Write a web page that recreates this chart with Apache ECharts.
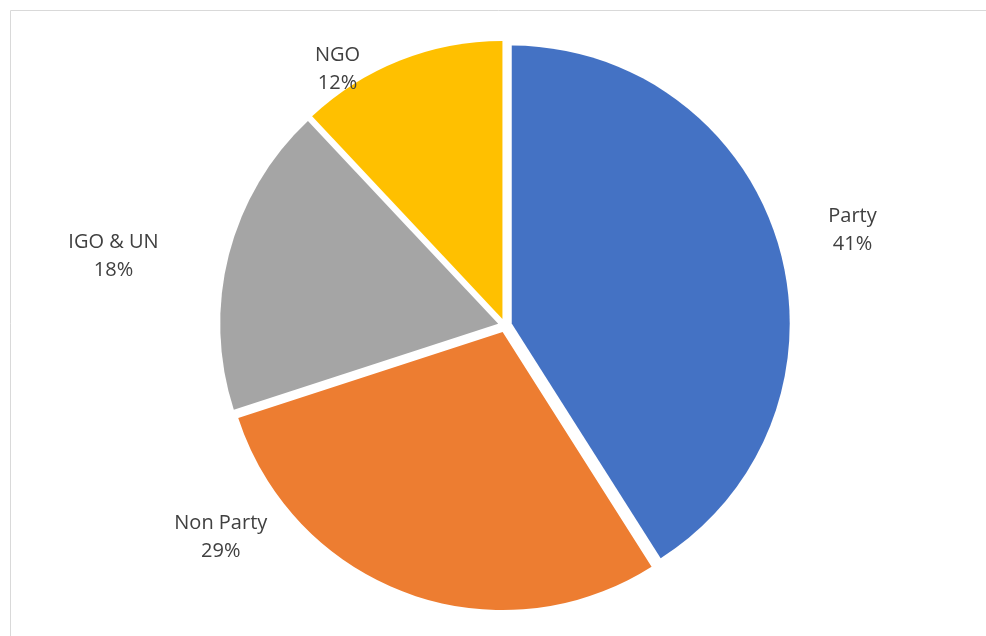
<!DOCTYPE html>
<html>
<head>
<meta charset="utf-8">
<script src="https://cdn.jsdelivr.net/npm/echarts@6/dist/echarts.min.js"></script>
<style>
html,body{margin:0;padding:0;background:#fff;}
#chart{width:986px;height:636px;}
</style>
</head>
<body>
<div id="chart"></div>
<script>
const categories = ['Party', 'Non Party', 'IGO & UN', 'NGO'];
const values = [41, 29, 18, 12];
const colors = ['#4472C4', '#ED7D31', '#A5A5A5', '#FFC000'];
// label nudges relative to ECharts' outside label anchor (style only)
const labelNudge = [[30, -7], [-162.5, -76], [-77, 12], [-36.5, 37]];

const chart = echarts.init(document.getElementById('chart'), null, {renderer: 'canvas'});
chart.setOption({
  animation: false,
  graphic: [{
    type: 'rect',
    shape: {x: 10.5, y: 10.5, width: 1200, height: 1000},
    style: {fill: 'none', stroke: '#d9d9d9', lineWidth: 1},
    silent: true, z: -1
  }],
  series: [{
    type: 'pie',
    center: [505, 325.5],
    radius: 278,
    startAngle: 90,
    clockwise: true,
    selectedMode: 'multiple',
    selectedOffset: 7,
    itemStyle: {borderWidth: 0},
    label: {
      show: true,
      position: 'outside',
      formatter: p => p.name + '\n' + p.value + '%',
      fontFamily: 'Open Sans',
      fontSize: 20,
      lineHeight: 28,
      color: '#404040',
      align: 'center'
    },
    labelLine: {show: false, length: 30, length2: 10},
    labelLayout: function (params) {
      const n = labelNudge[params.dataIndex];
      return {
        dx: n[0],
        dy: n[1],
        align: 'center',
        verticalAlign: 'middle'
      };
    },
    emphasis: {disabled: true},
    data: categories.map((c, i) => ({
      name: c, value: values[i], selected: true,
      itemStyle: {color: colors[i]}
    }))
  }]
});
</script>
</body>
</html>
